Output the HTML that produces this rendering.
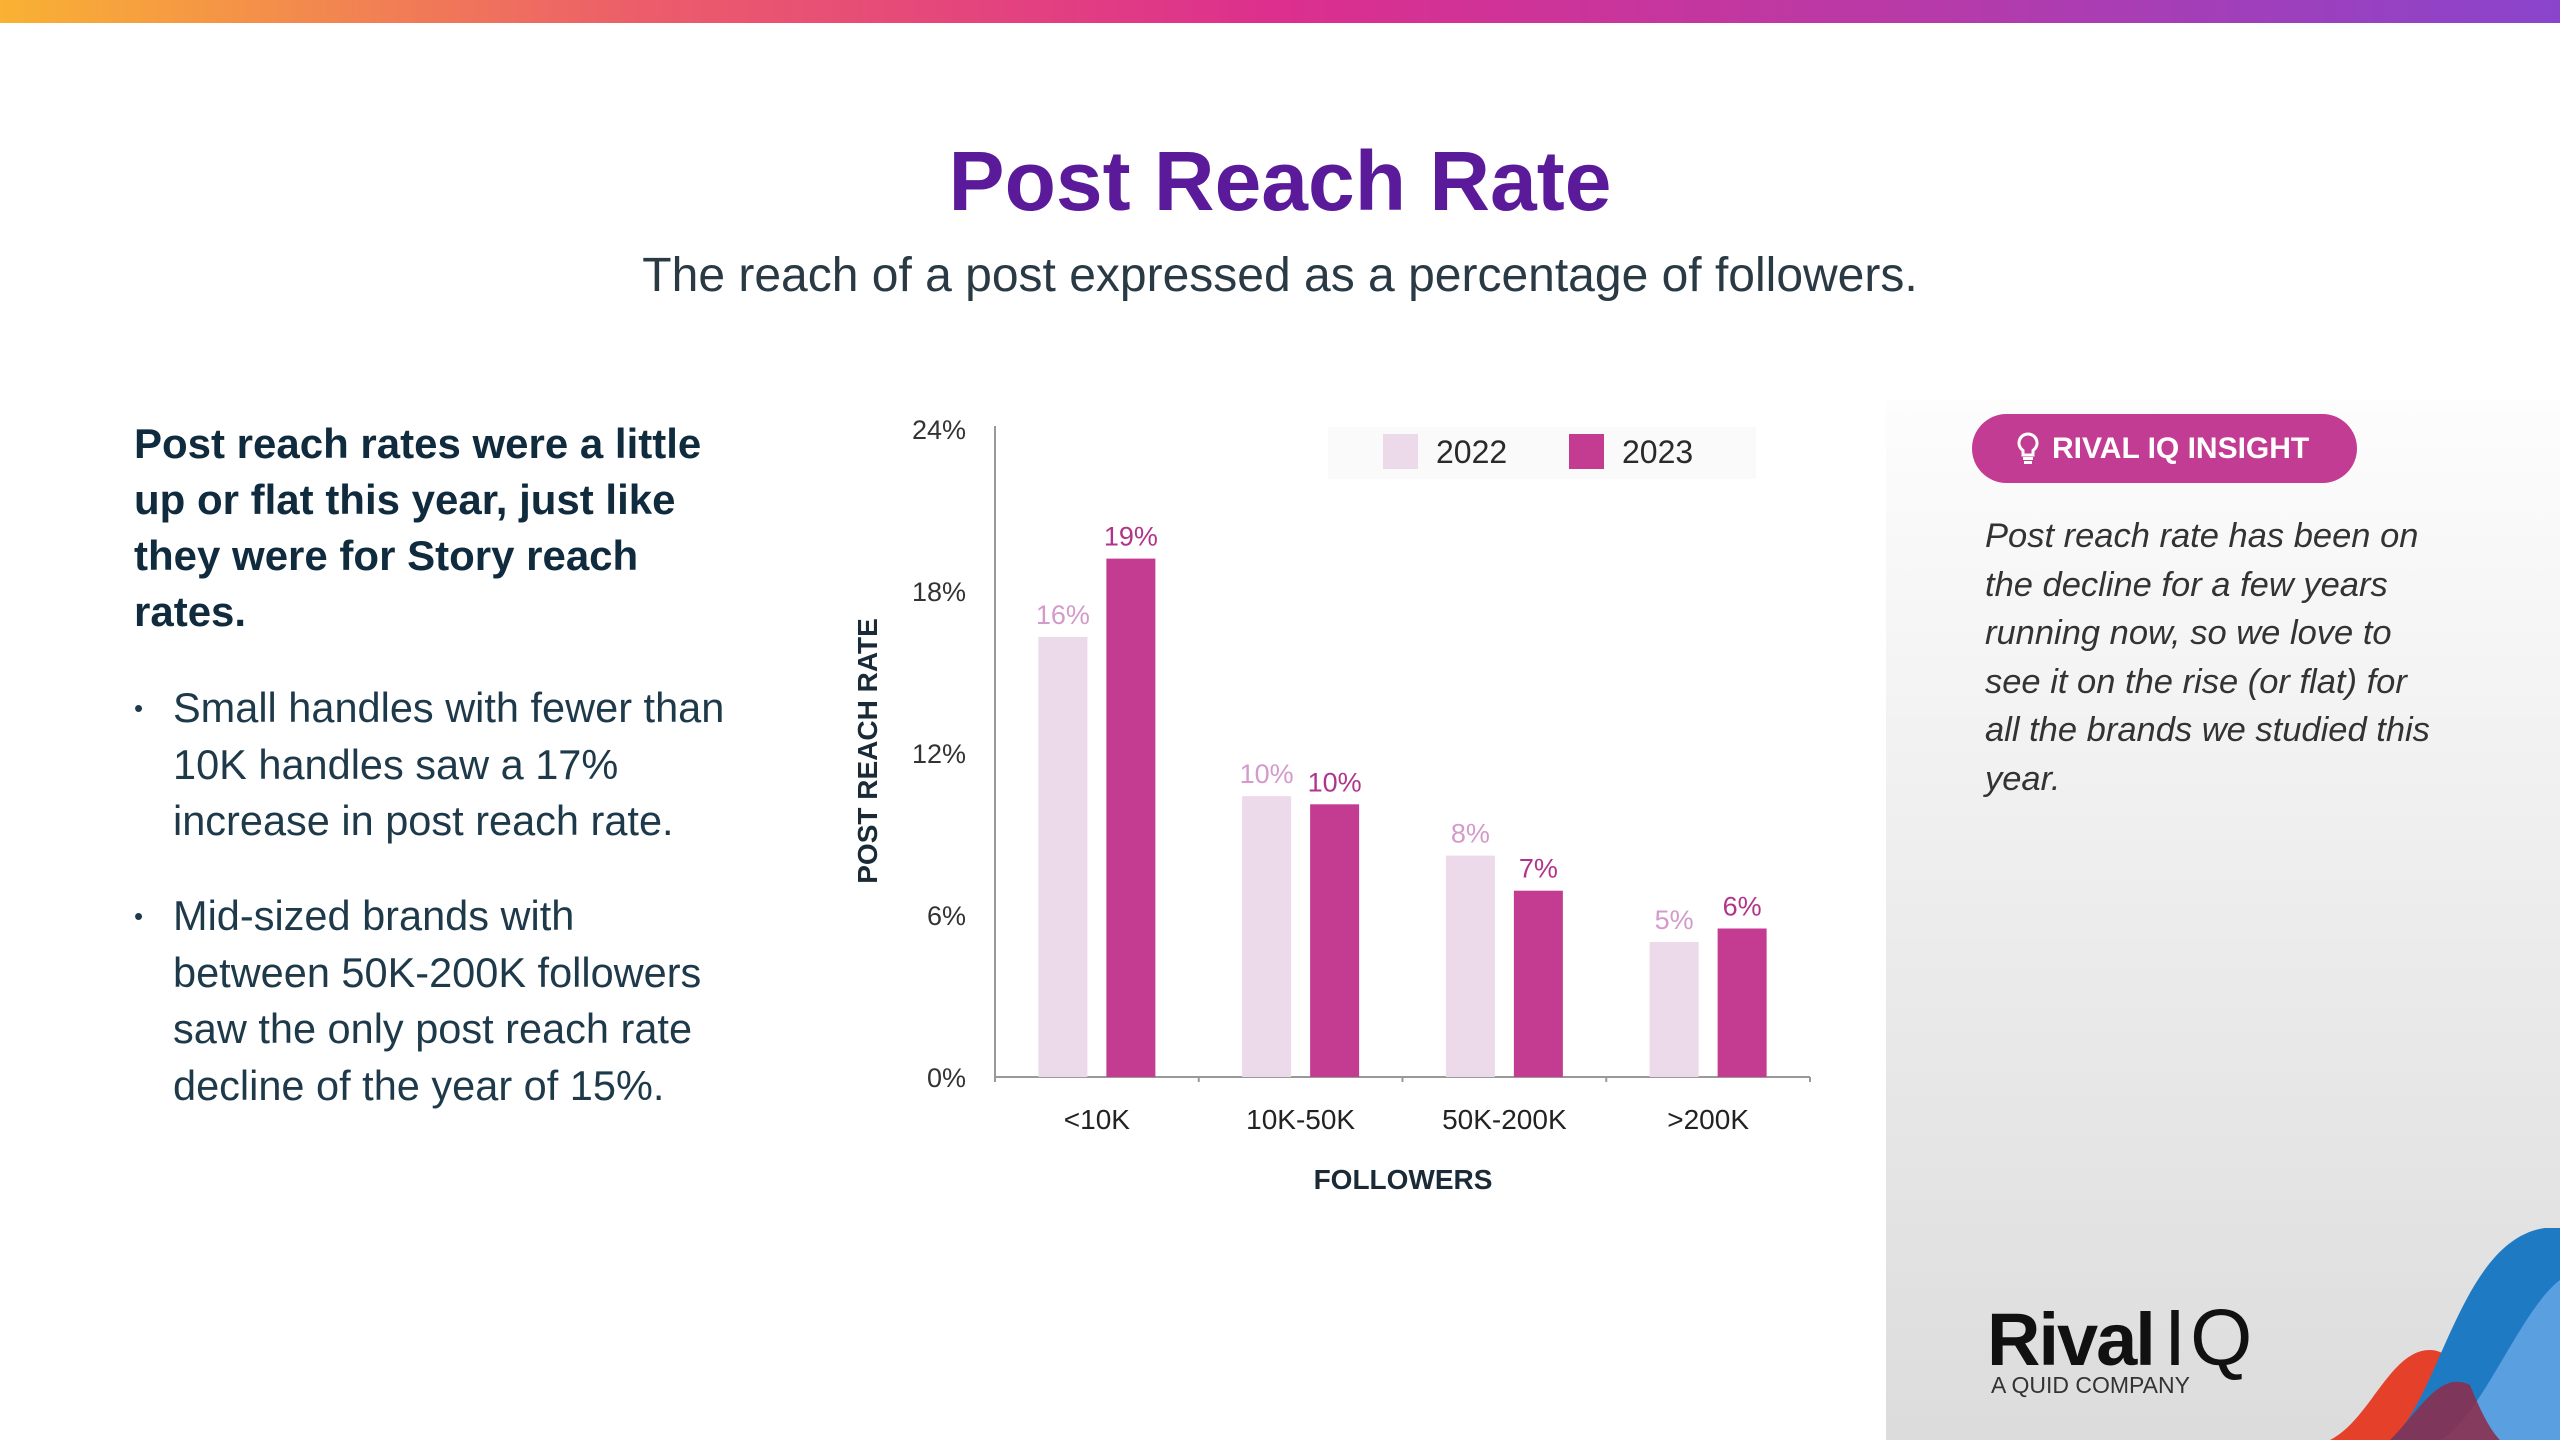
<!DOCTYPE html>
<html><head><meta charset="utf-8">
<style>
html,body{margin:0;padding:0;}
body{width:2560px;height:1440px;position:relative;overflow:hidden;background:#fff;font-family:"Liberation Sans",sans-serif;}
.abs{position:absolute;}
</style></head>
<body>
<div class="abs" style="left:0;top:0;width:2560px;height:23px;background:linear-gradient(90deg,#f9b233 0%,#ec5d6a 25%,#dc2f8e 50%,#b73aa8 75%,#8a44cc 100%);"></div>
<div class="abs" style="left:0;top:133px;width:2560px;text-align:center;font-size:84px;font-weight:bold;color:#5a1a9a;">Post Reach Rate</div>
<div class="abs" style="left:0;top:248px;width:2560px;text-align:center;font-size:48px;color:#2a3a44;">The reach of a post expressed as a percentage of followers.</div>

<div class="abs" style="left:134px;top:416px;font-size:42px;line-height:56px;font-weight:bold;color:#0f2b3d;white-space:nowrap;">Post reach rates were a little<br>up or flat this year, just like<br>they were for Story reach<br>rates.</div>
<div class="abs" style="left:134px;top:680px;font-size:41.5px;line-height:56.5px;color:#1e3a4a;white-space:nowrap;"><span style="position:absolute;left:0;top:0;font-size:26px;">•</span><div style="margin-left:39px;">Small handles with fewer than<br>10K handles saw a 17%<br>increase in post reach rate.</div></div>
<div class="abs" style="left:134px;top:888px;font-size:41.5px;line-height:56.5px;color:#1e3a4a;white-space:nowrap;"><span style="position:absolute;left:0;top:0;font-size:26px;">•</span><div style="margin-left:39px;">Mid-sized brands with<br>between 50K-200K followers<br>saw the only post reach rate<br>decline of the year of 15%.</div></div>

<div class="abs" style="left:1886px;top:400px;width:674px;height:1040px;background:linear-gradient(180deg,#fdfdfd 0%,#ececec 50%,#dcdcdc 100%);"></div>
<div class="abs" style="left:1972px;top:414px;width:385px;height:69px;border-radius:35px;background:#c23c93;color:#fff;font-weight:bold;font-size:30px;line-height:69px;">
<svg style="position:absolute;left:44px;top:18px" width="24" height="34" viewBox="0 0 24 34"><path d="M12 2a9 9 0 0 0-5 16.5V23h10v-4.5A9 9 0 0 0 12 2z" fill="none" stroke="#fff" stroke-width="3"/><rect x="7" y="25" width="10" height="3" fill="#fff"/><rect x="8" y="29" width="8" height="3" fill="#fff"/></svg>
<span style="position:absolute;left:80px;top:0;">RIVAL IQ INSIGHT</span></div>
<div class="abs" style="left:1985px;top:512px;font-size:34.5px;line-height:48.5px;font-style:italic;color:#333;white-space:nowrap;">Post reach rate has been on<br>the decline for a few years<br>running now, so we love to<br>see it on the rise (or flat) for<br>all the brands we studied this<br>year.</div>

<div class="abs" style="left:1987px;top:1292px;color:#111;white-space:nowrap;">
<span style="font-size:74px;font-weight:bold;letter-spacing:-2px;">Rival</span><span style="font-size:80px;font-weight:normal;margin-left:10px;letter-spacing:4px;">IQ</span>
<div style="font-size:23px;color:#333;margin-top:-12px;margin-left:4px;">A QUID COMPANY</div></div>
<svg class="abs" style="left:2330px;top:1220px" width="230" height="220" viewBox="0 0 230 220">
<path d="M0 220 C40 200 60 130 100 130 C140 130 150 220 230 220Z" fill="#e5402a"/>
<path d="M60 220 C110 180 130 20 215 8 L230 8 L230 220Z" fill="#1f7ac4"/>
<path d="M110 220 C150 200 190 90 230 60 L230 220Z" fill="#5aa0e0"/>
<path d="M60 220 C90 190 110 150 140 165 C150 190 160 210 170 220Z" fill="#883050" opacity="0.9"/>
</svg>

<svg class="abs" style="left:0;top:0" width="2560" height="1440" id="chart"></svg>
<script>
const categories=["<10K","10K-50K","50K-200K",">200K"];
const values2022=[16.3,10.4,8.2,5.0];
const values2023=[19.2,10.1,6.9,5.5];
const labels2022=["16%","10%","8%","5%"];
const labels2023=["19%","10%","7%","6%"];
const yTicks=[0,6,12,18,24];
const yTickLabels=["0%","6%","12%","18%","24%"];
const seriesNames=["2022","2023"];

const NS="http://www.w3.org/2000/svg";
const svg=document.getElementById('chart');
const X0=995,X1=1810,Y0=1077,YT=429,YMAX=24;
const bandW=(X1-X0)/categories.length;
function y(v){return Y0-(v/YMAX)*(Y0-YT);}
function xc(i){return X0+bandW*(i+0.5);}
function mk(tag,attrs){const e=document.createElementNS(NS,tag);for(const k in attrs)e.setAttribute(k,attrs[k]);svg.appendChild(e);return e;}
function txt(s,attrs){const e=mk('text',attrs);e.textContent=s;return e;}
const F='"Liberation Sans",sans-serif';
let lg=mk('rect',{x:1328,y:427,width:428,height:52,fill:'#fafafa'});


const legCols=['#ecd9ea','#c43b92'];const legX=[1383,1569];
seriesNames.forEach((n,i)=>{
 let r=mk('rect',{x:legX[i],y:434,width:35,height:35,fill:legCols[i]});
 
 
 let t=txt(n,{x:legX[i]+53,y:463,'font-size':32,fill:'#2a2a2a','font-family':F});
 
 
});
let ya=mk('line',{x1:X0,y1:YT-3,x2:X0,y2:Y0,stroke:'#999','stroke-width':2});


let xa=mk('line',{x1:X0,y1:Y0,x2:X1,y2:Y0,stroke:'#999','stroke-width':2});


yTicks.forEach((v,i)=>{
 let t=txt(yTickLabels[i],{x:966,y:y(v)+10,'text-anchor':'end','font-size':27,fill:'#333','font-family':F});
 
 
});
for(let i=0;i<=categories.length;i++){
 let tk=mk('line',{x1:X0+bandW*i,y1:Y0,x2:X0+bandW*i,y2:Y0+5,stroke:'#999','stroke-width':2});
 
 
}
const BW=49,GAP=19;
categories.forEach((c,i)=>{
 const cx=xc(i);
 const xa1=cx-GAP/2-BW, xb1=cx+GAP/2;
 let b1=mk('rect',{x:xa1,y:y(values2022[i]),width:BW,height:Y0-y(values2022[i]),fill:'#ecd9ea'});
 
 
 let b2=mk('rect',{x:xb1,y:y(values2023[i]),width:BW,height:Y0-y(values2023[i]),fill:'#c43b92'});
 
 
 let l1=txt(labels2022[i],{x:xa1+BW/2,y:y(values2022[i])-13,'text-anchor':'middle','font-size':27,fill:'#d39acb','font-family':F});
 
 
 let l2=txt(labels2023[i],{x:xb1+BW/2,y:y(values2023[i])-13,'text-anchor':'middle','font-size':27,fill:'#b0358a','font-family':F});
 
 
 let cl=txt(c,{x:cx,y:1129,'text-anchor':'middle','font-size':28,fill:'#222','font-family':F});
 
 
});
let xt=txt('FOLLOWERS',{x:1403,y:1189,'text-anchor':'middle','font-size':28,'font-weight':'bold',fill:'#1a2a36','font-family':F});


let yt=txt('POST REACH RATE',{x:0,y:0,'text-anchor':'middle','font-size':28,'font-weight':'bold',fill:'#1a2a36','font-family':F,transform:'translate(877,751) rotate(-90)'});


</script>
</body></html>
